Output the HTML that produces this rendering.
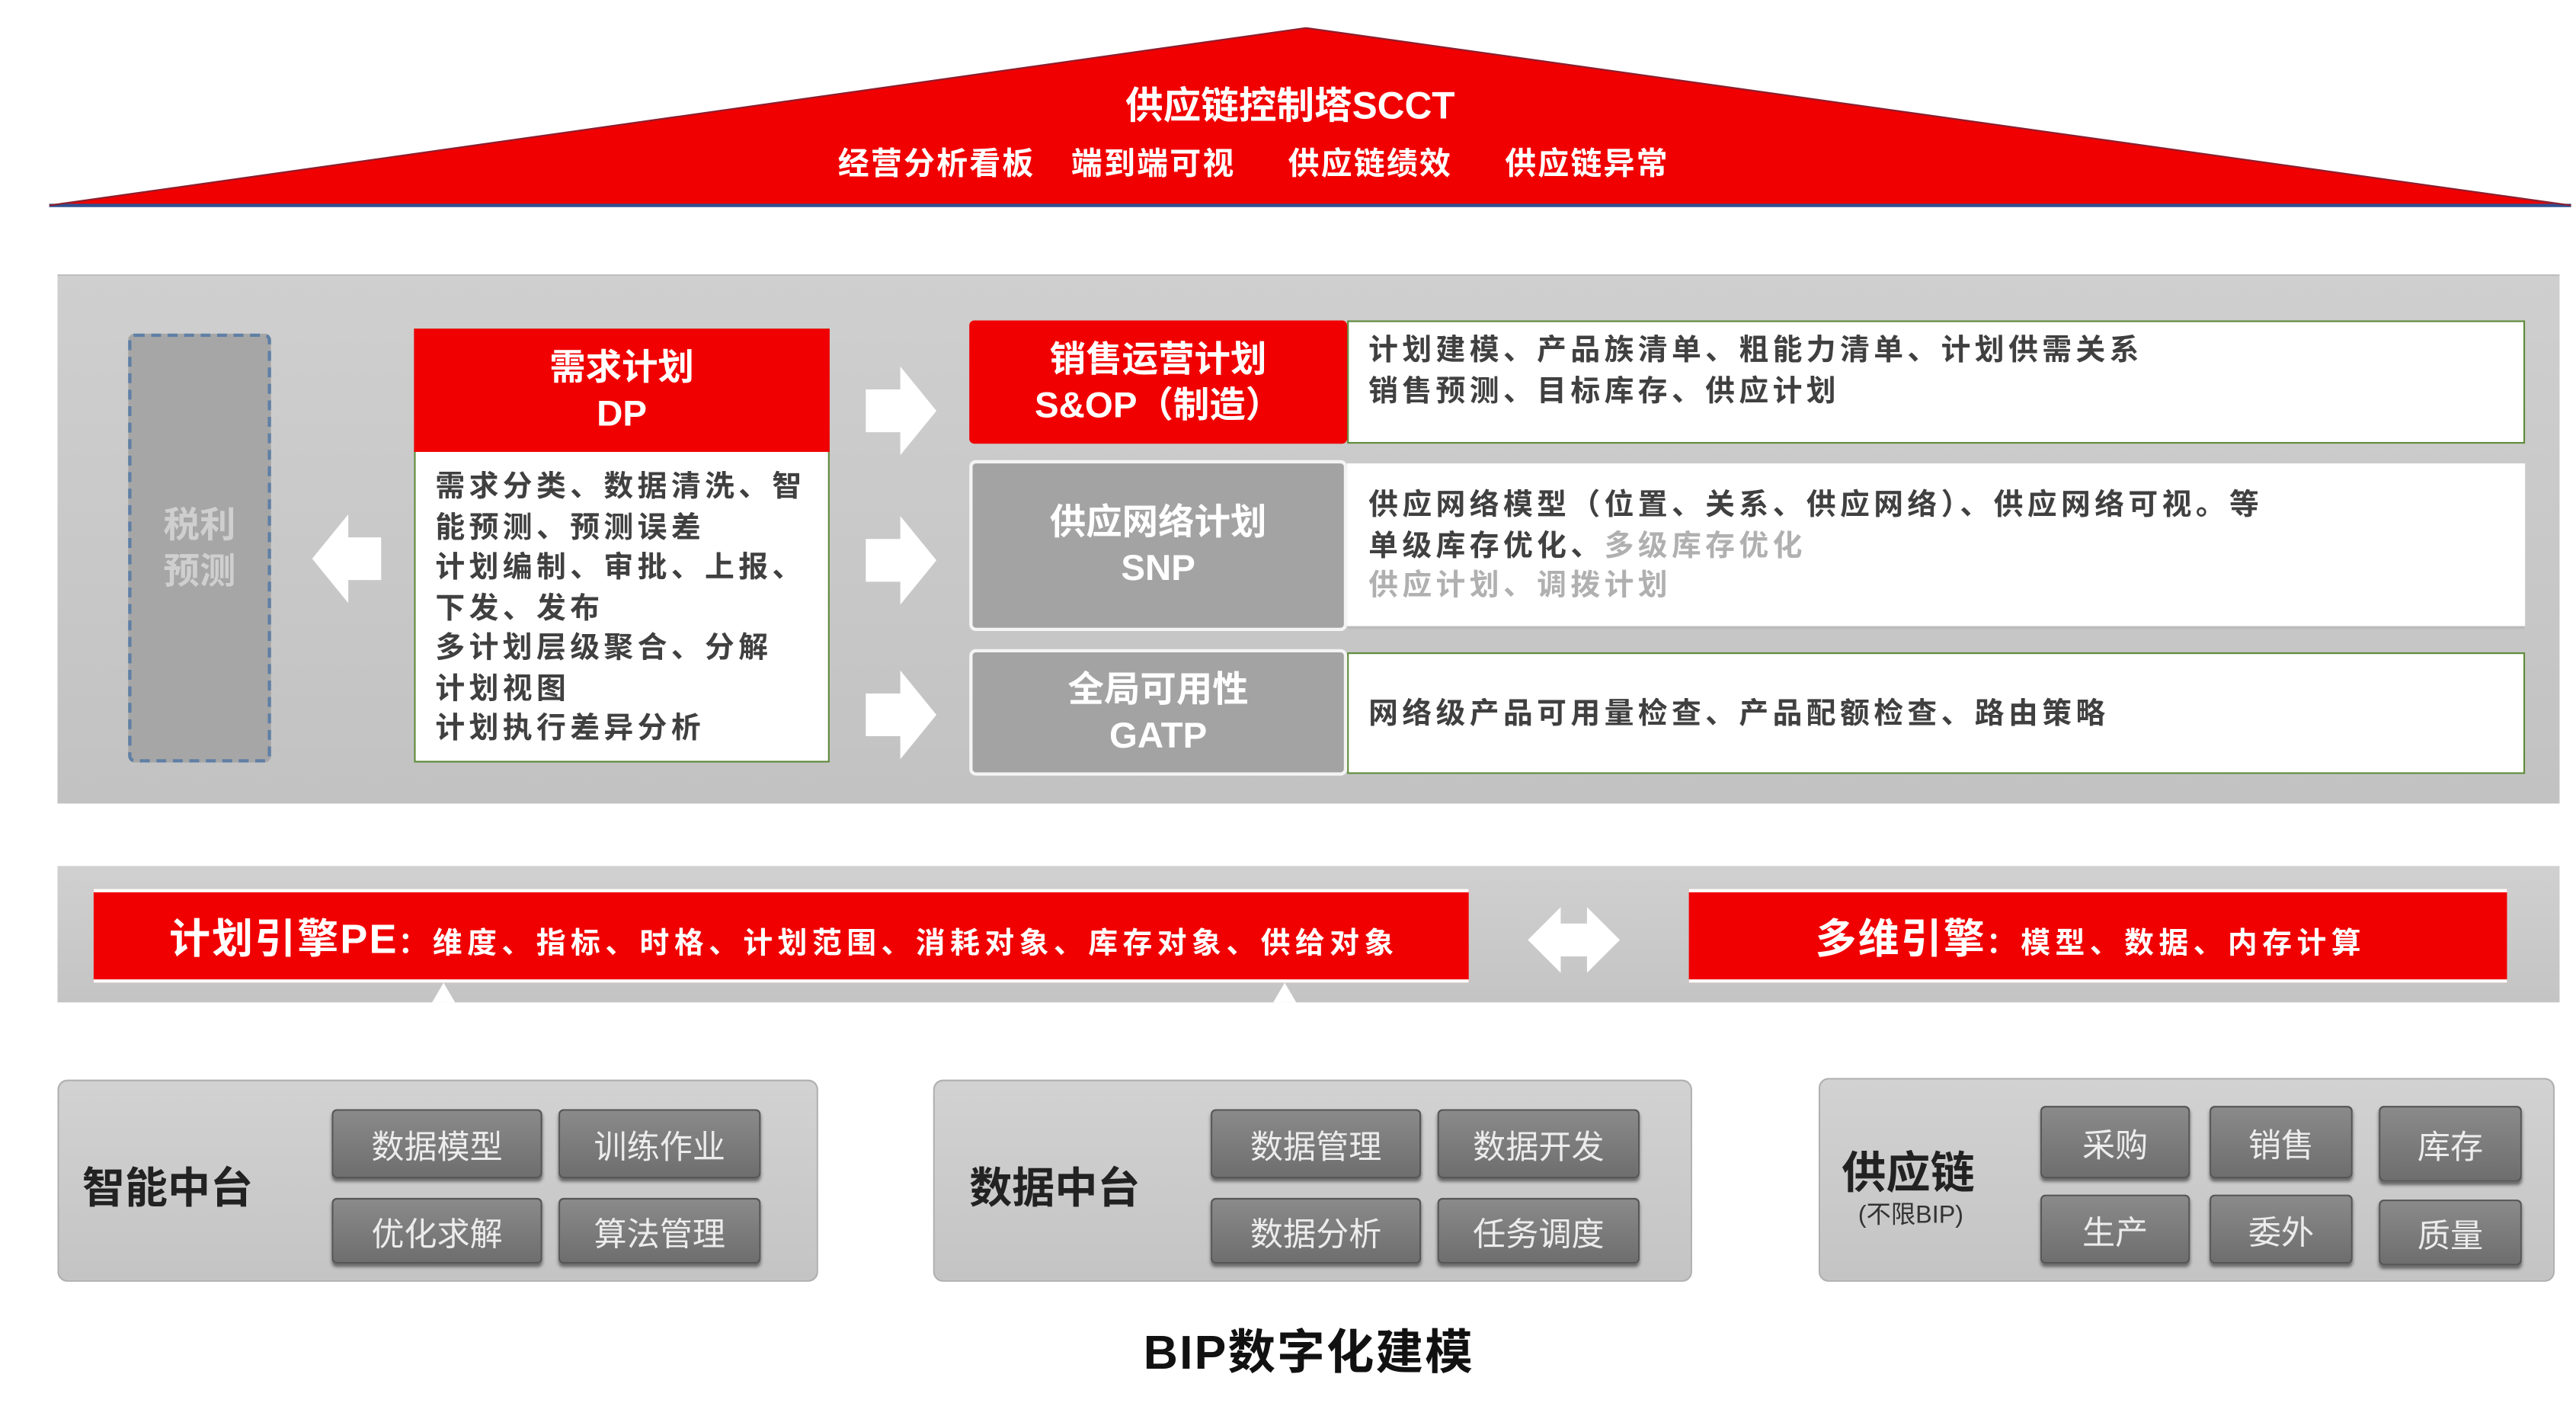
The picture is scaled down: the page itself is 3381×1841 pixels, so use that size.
<!DOCTYPE html>
<html><head><meta charset="utf-8"><style>
html,body{margin:0;padding:0;background:#fff;}
body{width:3381px;height:1841px;overflow:hidden;position:relative;}
#s{position:absolute;left:0;top:0;width:1568px;height:854px;transform:scale(2.15625);transform-origin:0 0;font-family:"Liberation Sans","Noto Sans CJK SC",sans-serif;}
.a{position:absolute;box-sizing:border-box;}
.t{position:absolute;white-space:nowrap;}
.c{display:flex;flex-direction:column;align-items:center;justify-content:center;text-align:center;}
.btn{position:absolute;box-sizing:border-box;background:linear-gradient(#8a8a8a,#6e6e6e);border:1px solid #555;border-radius:3px;color:#ececec;font-size:20px;display:flex;align-items:center;justify-content:center;box-shadow:0 2px 2px #666;}
.grp{position:absolute;box-sizing:border-box;background:linear-gradient(#d2d2d2,#c4c4c4);border:1px solid #b0b0b0;border-radius:6px;}
.txt{font-size:18px;font-weight:bold;color:#404040;line-height:24.5px;letter-spacing:2.5px;}
.sub{position:absolute;top:85px;font-size:19px;font-weight:bold;color:#fff;white-space:nowrap;letter-spacing:1px;}
</style></head><body><div id="s">
<svg class="a" style="left:0;top:0" width="1568" height="854">
<polygon points="795,17 30,125 1565,125" fill="#f00000"/>
<line x1="30" y1="125" x2="1565" y2="125" stroke="#2f4f8f" stroke-width="2"/>
<line x1="30" y1="125" x2="795" y2="17" stroke="#8a2030" stroke-width="1"/>
<line x1="1565" y1="125" x2="795" y2="17" stroke="#8a2030" stroke-width="1"/>
</svg>
<div class="t" style="left:685px;top:45px;font-size:23px;font-weight:bold;color:#fff">供应链控制塔SCCT</div>
<div class="sub" style="left:510px">经营分析看板</div>
<div class="sub" style="left:652px">端到端可视</div>
<div class="sub" style="left:784px">供应链绩效</div>
<div class="sub" style="left:916px">供应链异常</div>

<div class="a" style="left:35px;top:167px;width:1523px;height:322px;background:linear-gradient(#cfcfcf,#c2c2c2);border-top:1px solid #bbb"></div>
<div class="a c" style="left:78px;top:203px;width:87px;height:261px;background:#a6a6a6;border:2px dashed #5f7fa5;border-radius:4px;font-size:22px;font-weight:bold;color:#cfcfcf;line-height:28px">税利<br>预测</div>

<div class="a" style="left:252px;top:200px;width:253px;height:264px;background:#fff;border:1.5px solid #5e8a3a"></div>
<div class="a c" style="left:252px;top:200px;width:253px;height:75px;background:#f00000;color:#fff;font-size:22px;font-weight:bold;line-height:28px">需求计划<br>DP</div>
<div class="t txt" style="left:265px;top:284px">需求分类、数据清洗、智<br>能预测、预测误差<br>计划编制、审批、上报、<br>下发、发布<br>多计划层级聚合、分解<br>计划视图<br>计划执行差异分析</div>

<div class="a" style="left:820px;top:195px;width:717px;height:75px;background:#fff;border:1.5px solid #5e8a3a"></div>
<div class="a c" style="left:590px;top:195px;width:230px;height:75px;background:#f00000;border-radius:3px;color:#fff;font-size:22px;font-weight:bold;line-height:28px">销售运营计划<br>S&amp;OP（制造）</div>
<div class="t txt" style="left:833px;top:201px">计划建模、产品族清单、粗能力清单、计划供需关系<br>销售预测、目标库存、供应计划</div>

<div class="a" style="left:820px;top:282px;width:717px;height:101px;background:#fff;border-bottom:2px solid #bbb"></div>
<div class="a c" style="left:590px;top:280px;width:230px;height:104px;background:#a3a3a3;border:2px solid #f4f4f4;border-radius:4px;color:#fff;font-size:22px;font-weight:bold;line-height:28px">供应网络计划<br>SNP</div>
<div class="t txt" style="left:833px;top:295px">供应网络模型（位置、关系、供应网络）、供应网络可视。等<br>单级库存优化、<span style="color:#b0b0b0">多级库存优化</span><br><span style="color:#b0b0b0">供应计划、调拨计划</span></div>

<div class="a" style="left:820px;top:397px;width:717px;height:74px;background:#fff;border:1.5px solid #5e8a3a"></div>
<div class="a c" style="left:590px;top:395px;width:230px;height:77px;background:#a3a3a3;border:2px solid #f4f4f4;border-radius:4px;color:#fff;font-size:22px;font-weight:bold;line-height:28px">全局可用性<br>GATP</div>
<div class="t txt" style="left:833px;top:422px">网络级产品可用量检查、产品配额检查、路由策略</div>

<div class="a" style="left:35px;top:527px;width:1523px;height:83px;background:linear-gradient(#d0d0d0,#c4c4c4)"></div>
<div class="a" style="left:57px;top:541px;width:837px;height:57px;background:#f00000;border-top:2px solid #fff;border-bottom:2px solid #fff"></div>
<div class="t" style="left:103px;top:552px;color:#fff;font-weight:bold;font-size:18px;letter-spacing:3px"><span style="font-size:25px;letter-spacing:1px">计划引擎PE</span>：维度、指标、时格、计划范围、消耗对象、库存对象、供给对象</div>
<div class="a" style="left:1028px;top:541px;width:498px;height:57px;background:#f00000;border-top:2px solid #fff;border-bottom:2px solid #fff"></div>
<div class="t" style="left:1105px;top:552px;color:#fff;font-weight:bold;font-size:18px;letter-spacing:3px"><span style="font-size:25px;letter-spacing:1px">多维引擎</span>：模型、数据、内存计算</div>

<svg class="a" style="left:0;top:0" width="1568" height="854">
<g fill="#fff">
<polygon points="190,340 212,313 212,327 232,327 232,353 212,353 212,367"/>
<polygon points="570,250 548,223 548,237 527,237 527,263 548,263 548,277"/>
<polygon points="570,341 548,314 548,328 527,328 527,354 548,354 548,368"/>
<polygon points="570,435 548,408 548,422 527,422 527,448 548,448 548,462"/>
<polygon points="930,572 950,552 950,562 966,562 966,552 986,572 966,592 966,582 950,582 950,592"/>
<polygon points="263,610 270,598 277,610"/>
<polygon points="775,610 782,598 789,610"/>
</g></svg>

<div class="grp" style="left:35px;top:657px;width:463px;height:123px"></div>
<div class="t" style="left:50px;top:703px;font-size:26px;font-weight:bold;color:#222">智能中台</div>
<div class="btn" style="left:202px;top:675px;width:128px;height:42px">数据模型</div>
<div class="btn" style="left:340px;top:675px;width:123px;height:42px">训练作业</div>
<div class="btn" style="left:202px;top:729px;width:128px;height:40px">优化求解</div>
<div class="btn" style="left:340px;top:729px;width:123px;height:40px">算法管理</div>

<div class="grp" style="left:568px;top:657px;width:462px;height:123px"></div>
<div class="t" style="left:590px;top:703px;font-size:26px;font-weight:bold;color:#222">数据中台</div>
<div class="btn" style="left:737px;top:675px;width:128px;height:42px">数据管理</div>
<div class="btn" style="left:875px;top:675px;width:123px;height:42px">数据开发</div>
<div class="btn" style="left:737px;top:729px;width:128px;height:40px">数据分析</div>
<div class="btn" style="left:875px;top:729px;width:123px;height:40px">任务调度</div>

<div class="grp" style="left:1107px;top:656px;width:448px;height:124px"></div>
<div class="t" style="left:1121px;top:692px;font-size:27px;font-weight:bold;color:#222">供应链</div>
<div class="t" style="left:1131px;top:728px;font-size:15px;color:#333">(不限BIP)</div>
<div class="btn" style="left:1242px;top:673px;width:91px;height:44px">采购</div>
<div class="btn" style="left:1345px;top:673px;width:87px;height:44px">销售</div>
<div class="btn" style="left:1448px;top:673px;width:87px;height:46px">库存</div>
<div class="btn" style="left:1242px;top:727px;width:91px;height:42px">生产</div>
<div class="btn" style="left:1345px;top:727px;width:87px;height:42px">委外</div>
<div class="btn" style="left:1448px;top:730px;width:87px;height:40px">质量</div>

<div class="t" style="left:696px;top:800px;font-size:29px;font-weight:bold;color:#111;letter-spacing:1px">BIP数字化建模</div>
</div></body></html>
